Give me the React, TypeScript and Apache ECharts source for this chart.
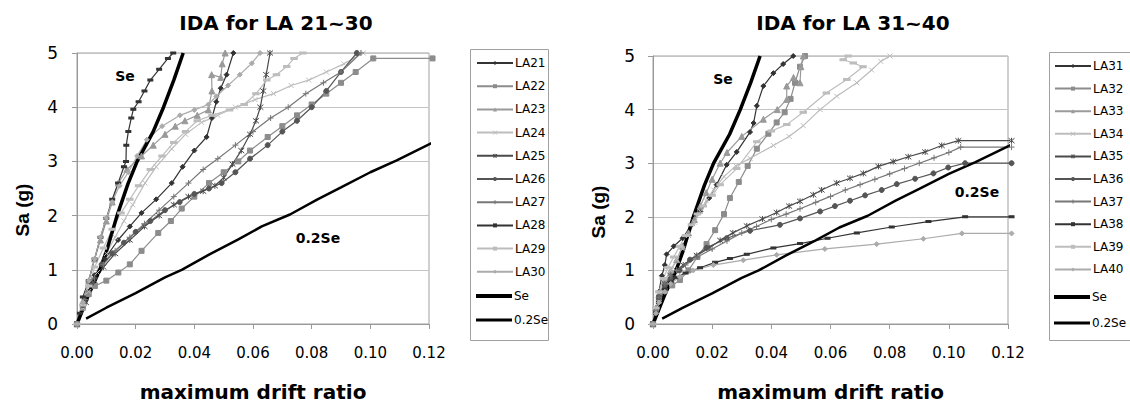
import { useEffect, useRef } from "react";
import * as echarts from "echarts";

// ---------- axis definitions ----------
const X_MIN = 0;
const X_MAX = 0.12;
const X_STEP = 0.02;
const Y_MIN = 0;
const Y_MAX = 5;
const Y_STEP = 1;

const TITLES = ["IDA for LA 21~30", "IDA for LA 31~40"];
const X_NAME = "maximum drift ratio";
const Y_NAME = "Sa (g)";

// ---------- reference lines (shared) ----------
const SE = [[0, 0], [0.004, 0.55], [0.0078, 1.0], [0.0102, 1.37], [0.0136, 1.99], [0.0174, 2.59], [0.0205, 3.0], [0.0259, 3.54], [0.0295, 4.0], [0.033, 4.5], [0.0362, 5.0]];
const SE02 = [[0.0031, 0.1], [0.01, 0.3], [0.02, 0.57], [0.03, 0.86], [0.0357, 1.0], [0.045, 1.28], [0.055, 1.56], [0.063, 1.8], [0.0726, 2.02], [0.082, 2.3], [0.09, 2.52], [0.1, 2.8], [0.109, 3.02], [0.1213, 3.35]];

// ---------- LA 21~30 ----------
const LA21 = [[0, 0], [0.002, 0.3], [0.004, 0.6], [0.006, 0.9], [0.0095, 1.2], [0.014, 1.55], [0.018, 1.8], [0.022, 2.05], [0.027, 2.3], [0.0323, 2.6], [0.036, 2.9], [0.04, 3.2], [0.0442, 3.45], [0.046, 3.8], [0.0475, 4.1], [0.049, 4.35], [0.051, 4.6], [0.0533, 5.0]];
const LA22 = [[0, 0], [0.002, 0.3], [0.004, 0.55], [0.0061, 0.7], [0.01, 0.8], [0.0141, 0.95], [0.018, 1.1], [0.022, 1.35], [0.0277, 1.68], [0.032, 1.9], [0.0357, 2.13], [0.04, 2.35], [0.045, 2.6], [0.05, 2.8], [0.055, 3.0], [0.059, 3.2], [0.065, 3.45], [0.07, 3.65], [0.075, 3.85], [0.08, 4.05], [0.085, 4.25], [0.09, 4.45], [0.095, 4.65], [0.101, 4.9], [0.1212, 4.9]];
const LA23 = [[0, 0], [0.002, 0.4], [0.004, 0.8], [0.006, 1.2], [0.008, 1.55], [0.01, 1.9], [0.012, 2.25], [0.0141, 2.6], [0.017, 2.85], [0.022, 3.1], [0.026, 3.3], [0.03, 3.5], [0.0335, 3.65], [0.0368, 3.75], [0.041, 3.85], [0.0448, 3.95], [0.046, 4.3], [0.0459, 4.6], [0.049, 4.55], [0.0495, 4.8], [0.0505, 5.0]];
const LA24 = [[0, 0], [0.002, 0.3], [0.004, 0.6], [0.007, 0.95], [0.01, 1.3], [0.013, 1.6], [0.016, 1.9], [0.019, 2.2], [0.0232, 2.6], [0.027, 2.9], [0.0323, 3.23], [0.037, 3.5], [0.0425, 3.72], [0.048, 3.85], [0.054, 4.0], [0.0607, 4.14], [0.067, 4.25], [0.073, 4.4], [0.079, 4.5], [0.085, 4.65], [0.091, 4.8], [0.0976, 5.0]];
const LA25 = [[0, 0], [0.003, 0.4], [0.006, 0.8], [0.009, 1.05], [0.013, 1.3], [0.018, 1.55], [0.023, 1.8], [0.028, 2.0], [0.033, 2.2], [0.038, 2.35], [0.043, 2.45], [0.047, 2.55], [0.05, 2.7], [0.053, 2.95], [0.056, 3.2], [0.059, 3.5], [0.061, 3.75], [0.0625, 4.0], [0.0635, 4.3], [0.0645, 4.6], [0.0658, 5.0]];
const LA26 = [[0, 0], [0.002, 0.35], [0.005, 0.75], [0.0084, 1.1], [0.012, 1.3], [0.016, 1.5], [0.02, 1.7], [0.025, 1.9], [0.03, 2.1], [0.035, 2.25], [0.04, 2.4], [0.045, 2.5], [0.0493, 2.6], [0.054, 2.8], [0.059, 3.05], [0.065, 3.3], [0.07, 3.55], [0.075, 3.75], [0.08, 4.0], [0.085, 4.3], [0.09, 4.65], [0.0954, 5.0]];
const LA27 = [[0, 0], [0.003, 0.45], [0.006, 0.85], [0.009, 1.1], [0.013, 1.35], [0.018, 1.6], [0.023, 1.85], [0.028, 2.1], [0.033, 2.35], [0.038, 2.6], [0.043, 2.85], [0.048, 3.05], [0.054, 3.3], [0.06, 3.55], [0.066, 3.8], [0.072, 4.0], [0.078, 4.25], [0.084, 4.45], [0.09, 4.65], [0.0968, 5.0]];
const LA28 = [[0, 0], [0.001, 0.2], [0.002, 0.5], [0.004, 0.8], [0.006, 1.2], [0.008, 1.6], [0.01, 1.95], [0.012, 2.3], [0.014, 2.6], [0.016, 2.9], [0.0167, 3.0], [0.0168, 3.3], [0.0175, 3.55], [0.0185, 3.8], [0.0192, 3.96], [0.021, 4.1], [0.023, 4.3], [0.025, 4.5], [0.028, 4.7], [0.031, 4.9], [0.0328, 5.0]];
const LA29 = [[0, 0], [0.002, 0.35], [0.004, 0.7], [0.006, 1.05], [0.009, 1.4], [0.012, 1.75], [0.015, 2.05], [0.018, 2.3], [0.021, 2.55], [0.025, 2.85], [0.029, 3.1], [0.033, 3.35], [0.037, 3.55], [0.041, 3.75], [0.046, 3.85], [0.052, 3.95], [0.057, 4.05], [0.061, 4.25], [0.0647, 4.5], [0.068, 4.6], [0.0715, 4.75], [0.074, 4.9], [0.077, 5.0]];
const LA30 = [[0, 0], [0.002, 0.4], [0.004, 0.8], [0.006, 1.2], [0.008, 1.6], [0.01, 1.95], [0.012, 2.25], [0.0145, 2.55], [0.0175, 2.8], [0.0205, 3.1], [0.0238, 3.4], [0.029, 3.65], [0.0351, 3.85], [0.04, 3.95], [0.0448, 4.05], [0.0475, 4.2], [0.0515, 4.4], [0.0555, 4.6], [0.0596, 4.81], [0.0624, 5.0]];

// ---------- LA 31~40 ----------
const LA31 = [[0, 0], [0.001, 0.3], [0.002, 0.6], [0.003, 0.9], [0.004, 1.1], [0.0046, 1.3], [0.007, 1.45], [0.01, 1.6], [0.013, 1.85], [0.016, 2.1], [0.019, 2.35], [0.0215, 2.6], [0.0249, 2.97], [0.0283, 3.21], [0.0328, 3.58], [0.034, 3.75], [0.0351, 4.07], [0.0373, 4.44], [0.0407, 4.68], [0.044, 4.85], [0.0474, 5.0]];
const LA32 = [[0, 0], [0.001, 0.25], [0.002, 0.45], [0.004, 0.62], [0.0065, 0.72], [0.0091, 0.82], [0.012, 1.0], [0.015, 1.25], [0.0181, 1.49], [0.021, 1.75], [0.024, 2.05], [0.026, 2.35], [0.029, 2.65], [0.032, 2.95], [0.0351, 3.27], [0.039, 3.55], [0.0418, 3.76], [0.0445, 3.95], [0.0465, 4.2], [0.048, 4.5], [0.0497, 4.8], [0.0514, 5.0]];
const LA33 = [[0, 0], [0.001, 0.3], [0.002, 0.55], [0.004, 0.8], [0.006, 1.0], [0.008, 1.2], [0.01, 1.45], [0.012, 1.7], [0.014, 1.95], [0.016, 2.2], [0.018, 2.45], [0.02, 2.7], [0.0227, 3.0], [0.025, 3.2], [0.03, 3.5], [0.0373, 3.82], [0.042, 4.0], [0.0452, 4.19], [0.0452, 4.44], [0.0475, 4.6], [0.0497, 4.5], [0.05, 4.8], [0.0508, 5.0]];
const LA34 = [[0, 0], [0.001, 0.3], [0.002, 0.55], [0.004, 0.8], [0.006, 1.0], [0.008, 1.2], [0.01, 1.4], [0.012, 1.65], [0.014, 1.9], [0.016, 2.1], [0.018, 2.3], [0.0205, 2.5], [0.024, 2.75], [0.028, 2.95], [0.0328, 3.09], [0.0407, 3.33], [0.046, 3.5], [0.0508, 3.7], [0.0565, 4.0], [0.0621, 4.25], [0.0689, 4.5], [0.0739, 4.74], [0.077, 4.9], [0.0801, 5.0]];
const LA35 = [[0, 0], [0.001, 0.25], [0.002, 0.5], [0.004, 0.75], [0.006, 0.9], [0.008, 1.0], [0.0102, 1.1], [0.0148, 1.28], [0.019, 1.42], [0.0227, 1.56], [0.027, 1.7], [0.0317, 1.83], [0.037, 1.96], [0.0418, 2.08], [0.046, 2.2], [0.0497, 2.29], [0.0542, 2.41], [0.057, 2.5], [0.0621, 2.63], [0.0666, 2.72], [0.0711, 2.81], [0.0762, 2.94], [0.0812, 3.03], [0.0863, 3.12], [0.092, 3.21], [0.0976, 3.33], [0.1032, 3.42], [0.1212, 3.42]];
const LA36 = [[0, 0], [0.001, 0.25], [0.002, 0.5], [0.004, 0.72], [0.006, 0.85], [0.009, 1.0], [0.0125, 1.2], [0.0181, 1.42], [0.0249, 1.6], [0.0328, 1.74], [0.0429, 1.85], [0.0497, 1.97], [0.0565, 2.1], [0.0615, 2.2], [0.0666, 2.3], [0.0717, 2.4], [0.0773, 2.5], [0.0824, 2.61], [0.0886, 2.71], [0.0948, 2.81], [0.0998, 2.92], [0.1055, 3.0], [0.1212, 3.0]];
const LA37 = [[0, 0], [0.001, 0.25], [0.002, 0.5], [0.004, 0.75], [0.006, 0.9], [0.008, 1.0], [0.011, 1.1], [0.015, 1.25], [0.02, 1.4], [0.025, 1.55], [0.03, 1.7], [0.035, 1.82], [0.04, 1.95], [0.045, 2.05], [0.0497, 2.15], [0.055, 2.27], [0.06, 2.38], [0.065, 2.5], [0.07, 2.6], [0.075, 2.7], [0.08, 2.8], [0.085, 2.9], [0.09, 3.0], [0.095, 3.1], [0.1, 3.2], [0.104, 3.3], [0.1212, 3.3]];
const LA38 = [[0, 0], [0.001, 0.2], [0.002, 0.4], [0.004, 0.65], [0.006, 0.78], [0.008, 0.87], [0.011, 0.95], [0.0159, 1.05], [0.021, 1.15], [0.026, 1.22], [0.0317, 1.3], [0.0407, 1.42], [0.0497, 1.5], [0.059, 1.6], [0.0689, 1.7], [0.0807, 1.81], [0.0931, 1.91], [0.1055, 2.0], [0.1212, 2.0]];
const LA39 = [[0, 0], [0.001, 0.3], [0.002, 0.6], [0.0035, 0.85], [0.005, 1.05], [0.007, 1.25], [0.009, 1.45], [0.011, 1.65], [0.013, 1.85], [0.015, 2.05], [0.017, 2.2], [0.02, 2.4], [0.0227, 2.6], [0.0283, 2.9], [0.0351, 3.4], [0.04, 3.6], [0.0452, 3.72], [0.0508, 3.95], [0.0586, 4.31], [0.0655, 4.56], [0.071, 4.8], [0.0677, 4.87], [0.0643, 4.93], [0.066, 5.0]];
const LA40 = [[0, 0], [0.001, 0.2], [0.002, 0.4], [0.004, 0.6], [0.006, 0.75], [0.009, 0.88], [0.0136, 1.0], [0.0204, 1.1], [0.0305, 1.19], [0.0418, 1.29], [0.0581, 1.4], [0.0756, 1.49], [0.0914, 1.59], [0.1044, 1.69], [0.1212, 1.69]];

const LEFT_SERIES = [LA21, LA22, LA23, LA24, LA25, LA26, LA27, LA28, LA29, LA30];
const RIGHT_SERIES = [LA31, LA32, LA33, LA34, LA35, LA36, LA37, LA38, LA39, LA40];
const LEFT_NAMES = ["LA21", "LA22", "LA23", "LA24", "LA25", "LA26", "LA27", "LA28", "LA29", "LA30"];
const RIGHT_NAMES = ["LA31", "LA32", "LA33", "LA34", "LA35", "LA36", "LA37", "LA38", "LA39", "LA40"];
const REF_NAMES = ["Se", "0.2Se"];

// ---------- styles ----------
const FONT = "'DejaVu Sans', sans-serif";
const SYM_X = "path://M0,0L10,10M10,0L0,10";
const SYM_STAR = "path://M0,0L10,10M10,0L0,10M5,-1L5,11";
const SYM_PLUS = "path://M5,0L5,10M0,5L10,5";
const STYLES = [
  { color: "#333333", symbol: "diamond", size: 5, stroked: false },
  { color: "#8c8c8c", symbol: "rect", size: 5, stroked: false },
  { color: "#9a9a9a", symbol: "triangle", size: 6, stroked: false },
  { color: "#bdbdbd", symbol: SYM_X, size: 5, stroked: true },
  { color: "#4a4a4a", symbol: SYM_STAR, size: 6, stroked: true },
  { color: "#555555", symbol: "circle", size: 5, stroked: false },
  { color: "#777777", symbol: SYM_PLUS, size: 6, stroked: true },
  { color: "#333333", symbol: "rect", size: [4, 2], stroked: false },
  { color: "#bdbdbd", symbol: "rect", size: [5, 2], stroked: false },
  { color: "#ababab", symbol: "diamond", size: 5, stroked: false },
];

function laSeries(name: string, data: number[][], idx: number, gi: number) {
  const s = STYLES[idx];
  return {
    type: "line",
    name,
    data,
    xAxisIndex: gi,
    yAxisIndex: gi,
    symbol: s.symbol,
    symbolSize: s.size,
    showAllSymbol: true,
    clip: false,
    lineStyle: { color: s.color, width: 1.2 },
    itemStyle: { color: s.color, borderColor: s.color, borderWidth: 1 },
    emphasis: { disabled: true },
  };
}

function refSeries(name: string, data: number[][], width: number, gi: number) {
  return {
    type: "line",
    name,
    data,
    xAxisIndex: gi,
    yAxisIndex: gi,
    symbol: "none",
    clip: false,
    lineStyle: { color: "#000", width },
    itemStyle: { color: "#000" },
    emphasis: { disabled: true },
  };
}

const GRIDS = [
  { left: 77, top: 53, width: 352, height: 274 },
  { left: 653, top: 56, width: 355, height: 272 },
];

function axisPair(gi: number) {
  const xAxis = {
    type: "value",
    gridIndex: gi,
    min: X_MIN,
    max: X_MAX,
    interval: X_STEP,
    name: X_NAME,
    nameLocation: "middle",
    nameGap: 58,
    nameTextStyle: { fontFamily: FONT, fontSize: 20, fontWeight: "bold", color: "#000" },
    axisLine: { show: true, lineStyle: { color: "#999", width: 1 } },
    axisTick: { show: true, length: 5, lineStyle: { color: "#999" } },
    axisLabel: { margin: 21, fontFamily: FONT, fontSize: 15, color: "#000", formatter: (v: number) => v.toFixed(2) },
    splitLine: { show: false },
  };
  const yAxis = {
    type: "value",
    gridIndex: gi,
    min: Y_MIN,
    max: Y_MAX,
    interval: Y_STEP,
    axisLine: { show: true, lineStyle: { color: "#999", width: 1 } },
    axisTick: { show: true, length: 5, lineStyle: { color: "#999" } },
    axisLabel: { margin: gi === 0 ? 19 : 18, fontFamily: FONT, fontSize: 17, color: "#000" },
    splitLine: { show: true, lineStyle: { color: "#c4c4c4", width: 1 } },
  };
  return { xAxis, yAxis };
}

const REF_ICONS = ["path://M0,0H36V4H0Z", "path://M0,0H36V3H0Z"];

function legendCfg(names: string[], left: number, top: number, gap: number, refs: boolean) {
  return {
    orient: "vertical",
    left,
    top,
    padding: 0,
    itemWidth: 36,
    itemHeight: 5,
    itemGap: gap,
    selectedMode: false,
    data: refs
      ? names.map((n, i) => ({ name: n, icon: REF_ICONS[i] }))
      : names.map((n, i) => ({ name: n, itemStyle: { borderWidth: STYLES[i].stroked ? 1 : 0 } })),
    textStyle: { fontFamily: FONT, fontSize: 12, color: "#000", lineHeight: 14, padding: [0, 0, 0, -3] },
  };
}

export default function App() {
  const ref = useRef<HTMLDivElement>(null);
  useEffect(() => {
    if (!ref.current) return;
    const chart = echarts.init(ref.current, undefined, { renderer: "svg" });
    const a0 = axisPair(0);
    const a1 = axisPair(1);
    const series: any[] = [];
    LEFT_SERIES.forEach((d, i) => series.push(laSeries(LEFT_NAMES[i], d, i, 0)));
    series.push(refSeries(REF_NAMES[0], SE, 3.5, 0));
    series.push(refSeries(REF_NAMES[1], SE02, 2.5, 0));
    RIGHT_SERIES.forEach((d, i) => series.push(laSeries(RIGHT_NAMES[i], d, i, 1)));
    series.push(refSeries(REF_NAMES[0], SE, 3.5, 1));
    series.push(refSeries(REF_NAMES[1], SE02, 2.5, 1));

    const titleStyle = { fontFamily: FONT, fontSize: 20, fontWeight: "bold", color: "#000" };
    const yNameStyle = { text: Y_NAME, fontFamily: "'Liberation Sans', Arial, sans-serif", fontSize: 19, fontWeight: "bold", fill: "#000", align: "center", verticalAlign: "middle" };
    const noteStyle = { fontFamily: FONT, fontSize: 14, fontWeight: "bold", fill: "#000", align: "center", verticalAlign: "middle" };

    const option = {
      animation: false,
      backgroundColor: "#fff",
      title: [
        { text: TITLES[0], left: 271, top: 8, textAlign: "center", textStyle: titleStyle },
        { text: TITLES[1], left: 848, top: 8, textAlign: "center", textStyle: titleStyle },
      ],
      grid: GRIDS.map((g) => ({ ...g, show: true, borderColor: "#a0a0a0", borderWidth: 1, backgroundColor: "#fff" })),
      xAxis: [a0.xAxis, a1.xAxis],
      yAxis: [a0.yAxis, a1.yAxis],
      legend: [
        legendCfg(LEFT_NAMES, 476, 56, 9.2, false),
        legendCfg(REF_NAMES, 476, 289, 10, true),
        legendCfg(RIGHT_NAMES, 1054, 59, 8.6, false),
        legendCfg(REF_NAMES, 1054, 290, 12, true),
      ],
      graphic: [
        { type: "rect", shape: { x: 470.5, y: 49.5, width: 78, height: 291 }, style: { fill: "none", stroke: "#a0a0a0", lineWidth: 1 }, z: -1 },
        { type: "rect", shape: { x: 1049.5, y: 52.5, width: 90, height: 288 }, style: { fill: "none", stroke: "#a0a0a0", lineWidth: 1 }, z: -1 },
        { type: "text", x: 22, y: 210, rotation: Math.PI / 2, style: yNameStyle },
        { type: "text", x: 598, y: 212, rotation: Math.PI / 2, style: yNameStyle },
        { type: "text", x: 125, y: 76, style: { ...noteStyle, text: "Se" } },
        { type: "text", x: 318, y: 238, style: { ...noteStyle, text: "0.2Se" } },
        { type: "text", x: 723, y: 79, style: { ...noteStyle, text: "Se" } },
        { type: "text", x: 977, y: 192, style: { ...noteStyle, text: "0.2Se" } },
      ],
      series,
    };
    chart.setOption(option as any);
    return () => chart.dispose();
  }, []);
  return <div ref={ref} style={{ position: "absolute", left: 0, top: 0, width: 1130, height: 407 }} />;
}
